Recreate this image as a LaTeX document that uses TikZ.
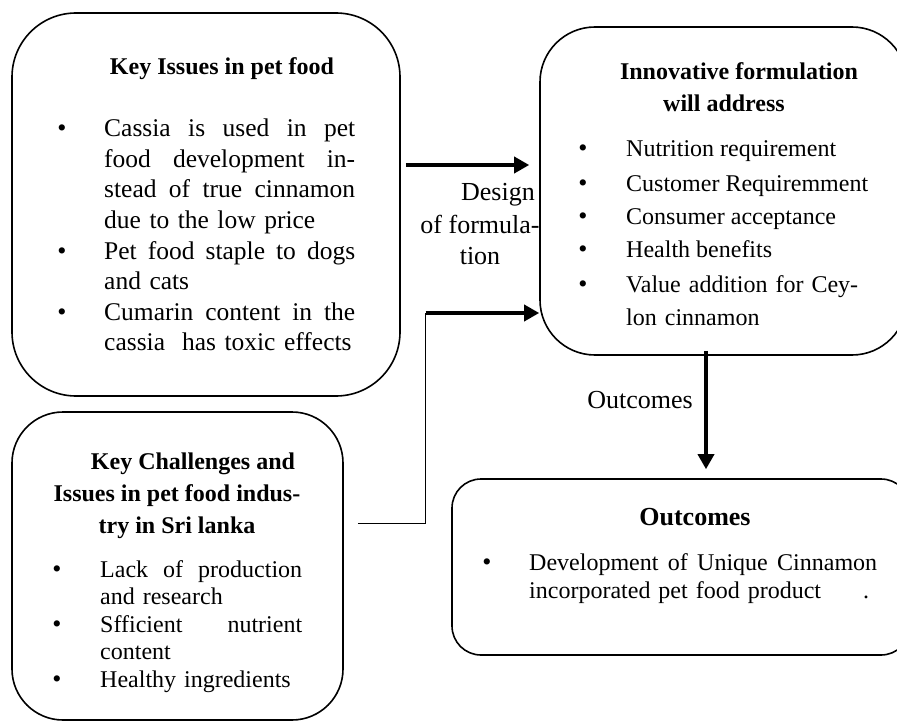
\documentclass[tikz,border=0pt]{standalone}
\usepackage{fontspec}
\setmainfont{Liberation Serif}
\usetikzlibrary{arrows.meta, calc}

% a justified line of a given width (align=left fixes the word space, so free it here)
\newcommand{\fullline}[2]{\makebox[#1][s]{\spaceskip=0pt\xspaceskip=0pt #2}}

\begin{document}
\begin{tikzpicture}[x=1pt, y=-1pt,
    panel/.style={draw, line width=1.6pt, inner sep=0pt},
    head/.style={font=\bfseries\fontsize{24}{32}\selectfont, align=center, inner sep=0pt, anchor=base},
    dot/.style={font=\fontsize{26}{26}\selectfont, inner sep=0pt, anchor=base},
    entry/.style={align=left, inner sep=0pt, anchor=base west},
    tag/.style={font=\fontsize{26}{32}\selectfont, align=center, inner sep=0pt, anchor=base},
    flow/.style={line width=3.5pt, -{Triangle[length=15pt, width=16pt]}},
    link/.style={line width=0.9pt}]

  \clip (0,0) rectangle (897,722);

  % the four rounded panels
  \node[panel, rounded corners=64pt, minimum width=388pt, minimum height=383pt] (issues) at (206,204.5) {};
  \node[panel, rounded corners=55pt, minimum width=367pt, minimum height=328pt] (formula) at (723.5,191) {};
  \node[panel, rounded corners=51pt, minimum width=331pt, minimum height=308pt] (challenges) at (177.5,566) {};
  \node[panel, rounded corners=29pt, minimum width=458pt, minimum height=176pt] (outcome) at (681,567) {};

  % key issues
  \begin{scope}[font=\fontsize{25.5}{30.5}\selectfont]
    \node[head] (issueshead) at (222,75) {Key Issues in pet food};
    \node[dot] (issuedot1) at (62,137) {\textbullet};
    \node[dot] (issuedot2) at (62,259) {\textbullet};
    \node[dot] (issuedot3) at (62,320) {\textbullet};
    \node[entry, text width=260pt] (issue1) at (104,137)
      {\fullline{251pt}{Cassia is used in pet}\\ \fullline{251pt}{food development in-}\\ \fullline{251pt}{stead of true cinnamon}\\ due to the low price};
    \node[entry, text width=260pt] (issue2) at (104,259)
      {\fullline{251pt}{Pet food staple to dogs}\\ and cats};
    \node[entry, text width=260pt] (issue3) at (104,320)
      {\fullline{251pt}{Cumarin content in the}\\ cassia \ has toxic effects};
  \end{scope}

  % innovative formulation
  \begin{scope}[font=\fontsize{24}{33}\selectfont]
    \node[head] (formulahead) at (739,112) {Innovative formulation\\ will address\hspace*{30pt}};
    \foreach \y [count=\i] in {157,192,225,258,292}
      \node[dot] (formuladot\i) at (583,\y) {\textbullet};
    \node[entry] (need1) at (626,157) {Nutrition requirement};
    \node[entry] (need2) at (626,192) {Customer Requiremment};
    \node[entry] (need3) at (626,225) {Consumer acceptance};
    \node[entry] (need4) at (626,258) {Health benefits};
    \node[entry, text width=250pt] (need5) at (626,292) {Value addition for Cey-\\ lon cinnamon};
  \end{scope}

  % challenges in Sri Lanka
  \begin{scope}[font=\fontsize{24}{27.5}\selectfont]
    \node[head] (challengehead) at (177,533)
      {\hspace*{32pt}Key Challenges and\\ Issues in pet food indus-\\ try in Sri lanka};
    \node[dot] (challengedot1) at (57,577) {\textbullet};
    \node[dot] (challengedot2) at (57,632) {\textbullet};
    \node[dot] (challengedot3) at (57,687) {\textbullet};
    \node[entry, text width=210pt] (challenge1) at (100,577)
      {\fullline{202pt}{Lack of production}\\ and research};
    \node[entry, text width=210pt] (challenge2) at (100,632)
      {\fullline{202pt}{Sfficient nutrient}\\ content};
    \node[entry, text width=210pt] (challenge3) at (100,687) {Healthy ingredients};
  \end{scope}

  % outcomes
  \begin{scope}[font=\fontsize{24}{28}\selectfont]
    \node[head, font=\bfseries\fontsize{26}{32}\selectfont] (outcomehead) at (695,525) {Outcomes};
    \node[dot] (outcomedot) at (487,570) {\textbullet};
    \node[entry, text width=356pt] (result) at (529,570)
      {\fullline{348pt}{Development of Unique Cinnamon}\\ incorporated pet food product\hspace{42pt}.};
  \end{scope}

  % arrows and their labels
  \draw[flow, shorten <=5pt, shorten >=10pt] ([yshift=39.5pt]issues.east) -- ([yshift=39.5pt]issues.east -| formula.west);
  \node[tag] (designtag) at (480,265) {\hspace*{36pt}Design\\ of formula-\\ tion};

  \coordinate (joint) at (425.5,313);
  \draw[link] ([shift={(14pt,43pt)}]challenges.east) -| (joint);
  \draw[flow] (joint) -- (joint -| formula.west);

  \draw[flow, shorten <=-5pt, shorten >=9pt] ([xshift=-17.5pt]formula.south) -- ([xshift=-17.5pt]formula.south |- outcome.north);
  \node[tag] (outcometag) at (640,408) {Outcomes};
\end{tikzpicture}
\end{document}
